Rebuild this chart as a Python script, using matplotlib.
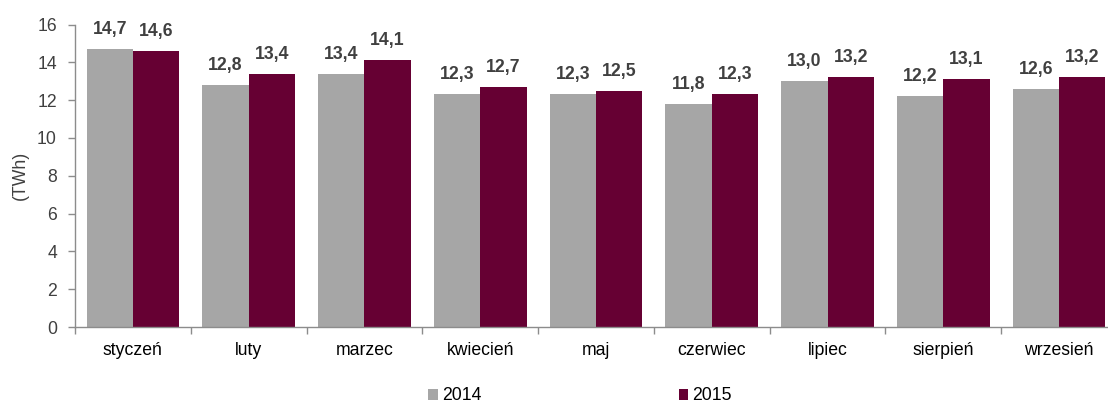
import numpy as np
import matplotlib.pyplot as plt

plt.rcParams['font.family'] = ['Liberation Sans', 'DejaVu Sans']

months = ['styczeń', 'luty', 'marzec', 'kwiecień', 'maj', 'czerwiec',
          'lipiec', 'sierpień', 'wrzesień']
v2014 = [14.7, 12.8, 13.4, 12.3, 12.3, 11.8, 13.0, 12.2, 12.6]
v2015 = [14.6, 13.4, 14.1, 12.7, 12.5, 12.3, 13.2, 13.1, 13.2]
series_names = ['2014', '2015']

c_grey = '#A6A6A6'
c_wine = '#660033'
c_text = '#404040'
c_axis = '#8C8C8C'
fs = 12.7

fig = plt.figure(figsize=(11.08, 4.03), dpi=100)
ax = fig.add_axes([75 / 1108, 76 / 403, 1042 / 1108, 302.5 / 403])

x = np.arange(len(months))
w = 0.40
b1 = ax.bar(x - w / 2, v2014, w, color=c_grey, label=series_names[0])
b2 = ax.bar(x + w / 2, v2015, w, color=c_wine, label=series_names[1])

for bars, vals in ((b1, v2014), (b2, v2015)):
    for rect, v in zip(bars, vals):
        ax.annotate(f'{v:.1f}'.replace('.', ','),
                    (rect.get_x() + rect.get_width() / 2, rect.get_height()),
                    xytext=(0, 8), textcoords='offset points',
                    ha='center', va='bottom', fontsize=fs,
                    fontweight='bold', color=c_text)

ax.set_xlim(-0.5, len(months) - 0.5)
ax.set_ylim(0, 16)
ax.set_yticks(range(0, 17, 2))
ax.set_ylabel('(TWh)', fontsize=fs, color=c_text, labelpad=6)

# category labels in the middle, tick marks on the boundaries
ax.set_xticks(x)
ax.set_xticklabels(months, fontsize=fs, color='black')
ax.tick_params(axis='x', length=0, pad=11)
ax.set_xticks(np.arange(-0.5, len(months) + 0.5, 1), minor=True)
ax.tick_params(axis='x', which='minor', length=5, color=c_axis, width=1)
ax.tick_params(axis='y', length=5, color=c_axis, width=1,
               labelsize=fs, labelcolor=c_text, pad=8)

for side in ('top', 'right'):
    ax.spines[side].set_visible(False)
for side in ('left', 'bottom'):
    ax.spines[side].set_color(c_axis)
    ax.spines[side].set_linewidth(1)

leg = fig.legend(handles=[b1, b2], loc='center', bbox_to_anchor=(580 / 1108, 1 - 396 / 403),
                 ncol=2, frameon=False, fontsize=fs, handlelength=0.55,
                 handleheight=0.55, handletextpad=0.22, columnspacing=11.2,
                 borderpad=0)
for t in leg.get_texts():
    t.set_color('black')

fig.savefig('out.png', dpi=100)
